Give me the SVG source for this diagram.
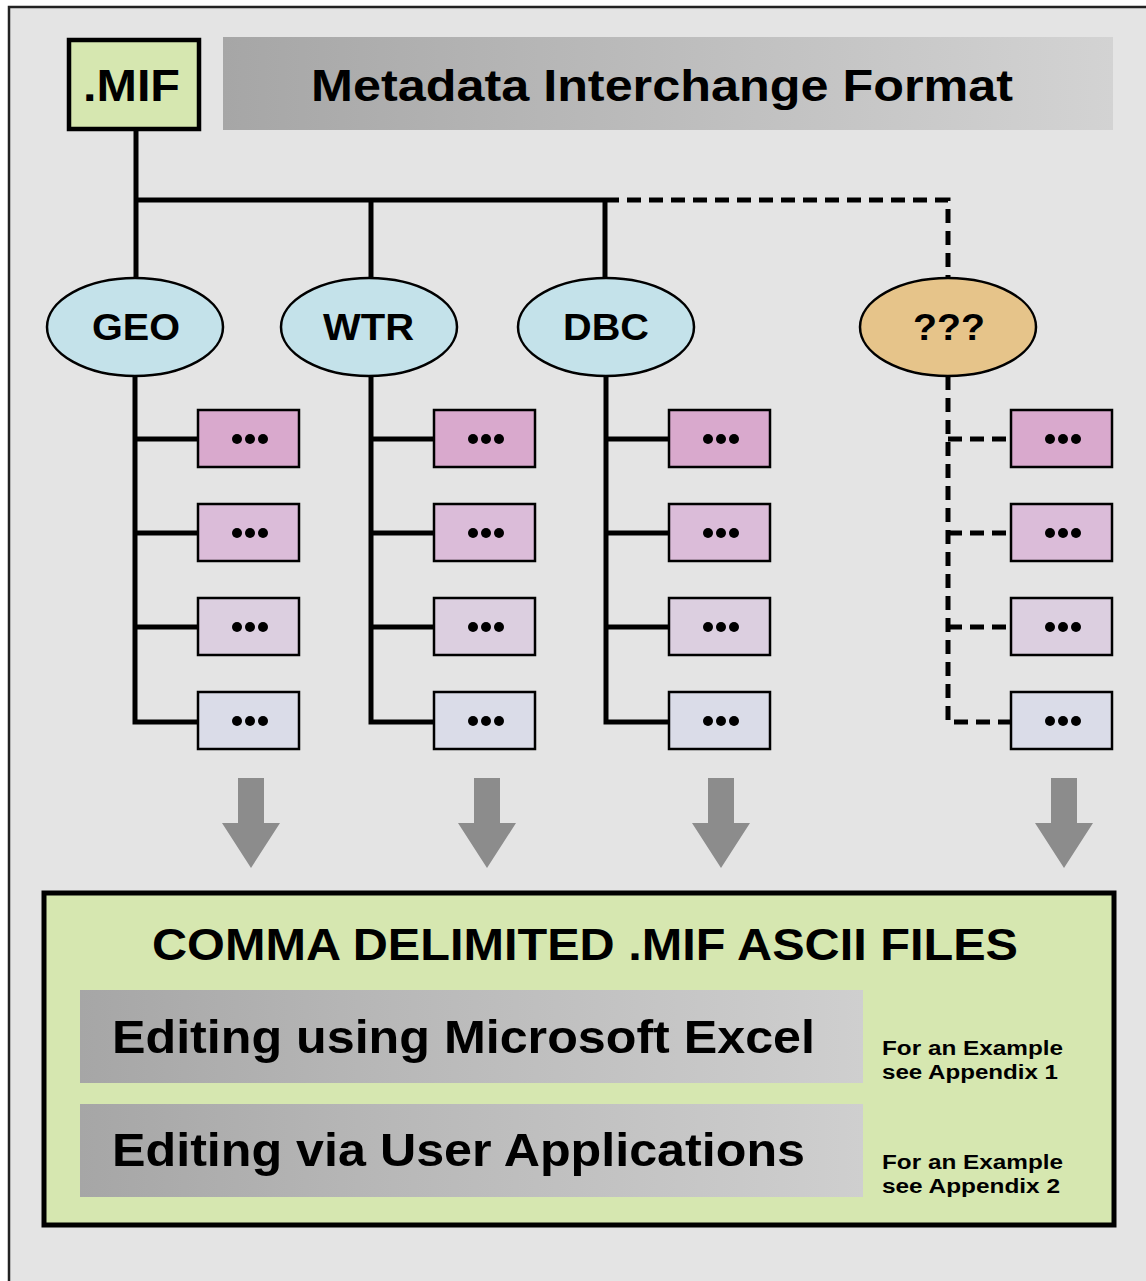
<svg xmlns="http://www.w3.org/2000/svg" width="1146" height="1281" viewBox="0 0 1146 1281">
<defs>
<linearGradient id="gbar" x1="0" y1="0" x2="1" y2="0">
<stop offset="0" stop-color="#a6a6a6"/>
<stop offset="1" stop-color="#d3d3d3"/>
</linearGradient>
<linearGradient id="gbar2" x1="0" y1="0" x2="1" y2="0">
<stop offset="0" stop-color="#a6a6a6"/>
<stop offset="0.4" stop-color="#b8b8b8"/>
<stop offset="1" stop-color="#cfcfcf"/>
</linearGradient>
<g id="dotpat"><circle cx="-13" cy="0" r="5" fill="#000"/><circle cx="0" cy="0" r="5" fill="#000"/><circle cx="13" cy="0" r="5" fill="#000"/></g>
</defs>
<style>
text{font-family:"Liberation Sans",Arial,sans-serif;font-weight:bold;fill:#000}
.ln{stroke:#000;stroke-width:5;fill:none}
.dl{stroke:#000;stroke-width:5;fill:none;stroke-dasharray:14 8}
.ell{stroke:#000;stroke-width:2.5}
.bx{stroke:#000;stroke-width:2.5}
.r1{fill:#d9a9cd}.r2{fill:#dbbcd9}.r3{fill:#dccfe0}.r4{fill:#dadce8}
.arr{fill:#8c8c8c}
.lbl{font-size:36px}
.sm{font-size:20px}
</style>
<rect x="0" y="0" width="1146" height="1281" fill="#ffffff"/>
<rect x="9" y="7" width="1150" height="1290" fill="#e4e4e4" stroke="#222" stroke-width="2.5"/>

<g id="title">
<rect x="223" y="37" width="890" height="93" fill="url(#gbar)"/>
<text x="311" y="101" font-size="45" textLength="702" lengthAdjust="spacingAndGlyphs">Metadata Interchange Format</text>
</g>

<g id="connectors">
<path class="ln" d="M136 130 V280 M136 200 H605 M371 200 V280 M605 200 V280"/>
<path class="dl" d="M605 200 H948 V278"/>
<path class="ln" d="M135 376 V722 H198 M135 439 H198 M135 533 H198 M135 627 H198"/>
<path class="ln" d="M371 376 V722 H434 M371 439 H434 M371 533 H434 M371 627 H434"/>
<path class="ln" d="M606 376 V722 H669 M606 439 H669 M606 533 H669 M606 627 H669"/>
<path class="dl" d="M948 376 V722 H1011 M948 439 H1011 M948 533 H1011 M948 627 H1011"/>
</g>

<g id="mif">
<rect x="69" y="40" width="130" height="89" fill="#d6e7b0" stroke="#000" stroke-width="4.5"/>
<text x="83" y="101" font-size="45" textLength="97" lengthAdjust="spacingAndGlyphs">.MIF</text>
</g>

<g id="geo"><ellipse class="ell" cx="135" cy="327" rx="88" ry="49" fill="#c4e2ea"/><text class="lbl" x="92" y="340" textLength="88" lengthAdjust="spacingAndGlyphs">GEO</text></g>
<g id="wtr"><ellipse class="ell" cx="369" cy="327" rx="88" ry="49" fill="#c4e2ea"/><text class="lbl" x="323" y="340" textLength="91" lengthAdjust="spacingAndGlyphs">WTR</text></g>
<g id="dbc"><ellipse class="ell" cx="606" cy="327" rx="88" ry="49" fill="#c4e2ea"/><text class="lbl" x="563" y="340" textLength="86" lengthAdjust="spacingAndGlyphs">DBC</text></g>
<g id="unk"><ellipse class="ell" cx="948" cy="327" rx="88" ry="49" fill="#e6c48a"/><text class="lbl" x="913" y="340" textLength="72" lengthAdjust="spacingAndGlyphs">???</text></g>

<g id="geo-items">
<rect class="bx r1" x="198" y="410" width="101" height="57"/><rect class="bx r2" x="198" y="504" width="101" height="57"/><rect class="bx r3" x="198" y="598" width="101" height="57"/><rect class="bx r4" x="198" y="692" width="101" height="57"/>
<use href="#dotpat" x="250" y="439"/><use href="#dotpat" x="250" y="533"/><use href="#dotpat" x="250" y="627"/><use href="#dotpat" x="250" y="721"/>
</g>
<g id="wtr-items">
<rect class="bx r1" x="434" y="410" width="101" height="57"/><rect class="bx r2" x="434" y="504" width="101" height="57"/><rect class="bx r3" x="434" y="598" width="101" height="57"/><rect class="bx r4" x="434" y="692" width="101" height="57"/>
<use href="#dotpat" x="486" y="439"/><use href="#dotpat" x="486" y="533"/><use href="#dotpat" x="486" y="627"/><use href="#dotpat" x="486" y="721"/>
</g>
<g id="dbc-items">
<rect class="bx r1" x="669" y="410" width="101" height="57"/><rect class="bx r2" x="669" y="504" width="101" height="57"/><rect class="bx r3" x="669" y="598" width="101" height="57"/><rect class="bx r4" x="669" y="692" width="101" height="57"/>
<use href="#dotpat" x="721" y="439"/><use href="#dotpat" x="721" y="533"/><use href="#dotpat" x="721" y="627"/><use href="#dotpat" x="721" y="721"/>
</g>
<g id="unk-items">
<rect class="bx r1" x="1011" y="410" width="101" height="57"/><rect class="bx r2" x="1011" y="504" width="101" height="57"/><rect class="bx r3" x="1011" y="598" width="101" height="57"/><rect class="bx r4" x="1011" y="692" width="101" height="57"/>
<use href="#dotpat" x="1063" y="439"/><use href="#dotpat" x="1063" y="533"/><use href="#dotpat" x="1063" y="627"/><use href="#dotpat" x="1063" y="721"/>
</g>

<g id="arrows">
<path class="arr" d="M238 778 H264 V823 H280 L251 868 L222 823 H238 Z"/>
<path class="arr" d="M474 778 H500 V823 H516 L487 868 L458 823 H474 Z"/>
<path class="arr" d="M708 778 H734 V823 H750 L721 868 L692 823 H708 Z"/>
<path class="arr" d="M1051 778 H1077 V823 H1093 L1064 868 L1035 823 H1051 Z"/>
</g>

<g id="output">
<rect x="44" y="893" width="1070" height="332" fill="#d6e7b0" stroke="#000" stroke-width="5"/>
<text x="152" y="960" font-size="44" textLength="866" lengthAdjust="spacingAndGlyphs">COMMA DELIMITED .MIF ASCII FILES</text>
<rect x="80" y="990" width="783" height="93" fill="url(#gbar2)"/>
<text x="112" y="1053" font-size="46" textLength="703" lengthAdjust="spacingAndGlyphs">Editing using Microsoft Excel</text>
<rect x="80" y="1104" width="783" height="93" fill="url(#gbar2)"/>
<text x="112" y="1166" font-size="46" textLength="693" lengthAdjust="spacingAndGlyphs">Editing via User Applications</text>
<text class="sm" x="882" y="1055" textLength="181" lengthAdjust="spacingAndGlyphs">For an Example</text>
<text class="sm" x="882" y="1079" textLength="176" lengthAdjust="spacingAndGlyphs">see Appendix 1</text>
<text class="sm" x="882" y="1169" textLength="181" lengthAdjust="spacingAndGlyphs">For an Example</text>
<text class="sm" x="882" y="1193" textLength="178" lengthAdjust="spacingAndGlyphs">see Appendix 2</text>
</g>
</svg>
